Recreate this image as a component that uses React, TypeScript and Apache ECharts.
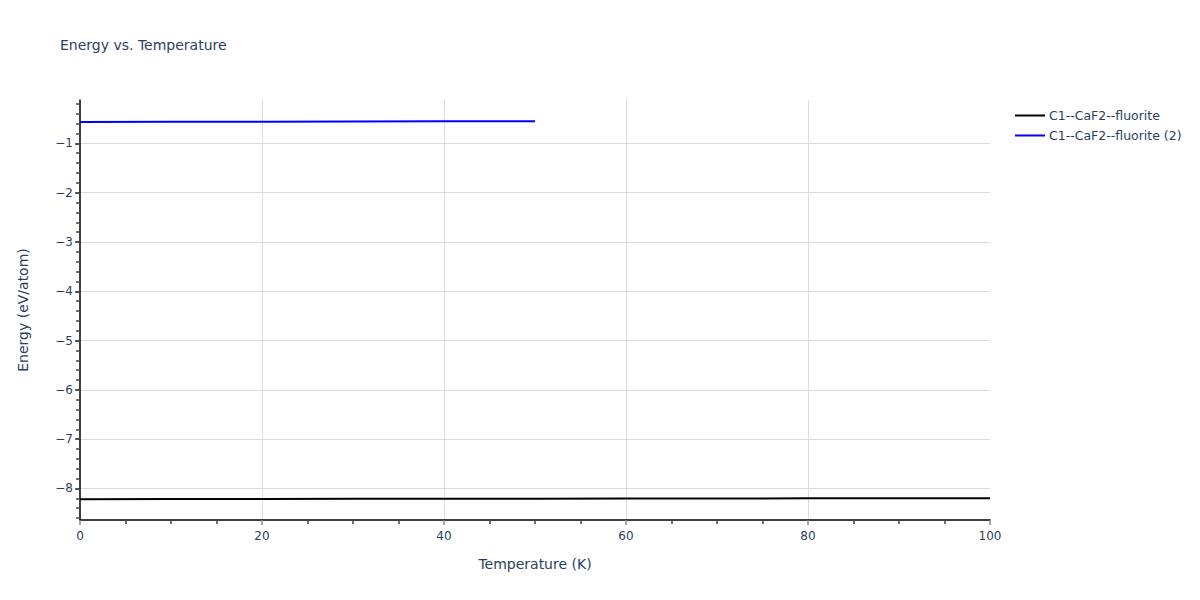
import React, { useEffect, useRef } from "react";
import * as echarts from "echarts";

const seriesNames = ["C1--CaF2--fluorite", "C1--CaF2--fluorite (2)"];
const tempA = [0, 10, 20, 30, 40, 50, 60, 70, 80, 90, 100];
const energyA = [-8.217, -8.215, -8.213, -8.211, -8.209, -8.207, -8.205, -8.203, -8.201, -8.199, -8.197];
const tempB = [0, 10, 20, 30, 40, 50];
const energyB = [-0.565, -0.562, -0.559, -0.556, -0.553, -0.55];
const xRange = [0, 100];
const yRange = [-8.64, -0.12];
const yMajorRange = [-8, -1];
const yMinorRange = [-8.6, -0.2];

const FONT = "DejaVu Sans, Verdana, sans-serif";
const TXT = "#2a3f5f";
const GRID_TOP = 100;
const GRID_BOTTOM = 80;
const GRID_LEFT = 80;
const GRID_RIGHT = 210;
const PLOT_H = 600 - GRID_TOP - GRID_BOTTOM;

function subGrid(range: number[]) {
  const ppu = PLOT_H / (yRange[1] - yRange[0]);
  return {
    left: GRID_LEFT,
    right: GRID_RIGHT,
    top: GRID_TOP + (yRange[1] - range[1]) * ppu,
    bottom: GRID_BOTTOM + (range[0] - yRange[0]) * ppu,
    containLabel: false,
  };
}

export default function App() {
  const ref = useRef<HTMLDivElement>(null);
  useEffect(() => {
    const chart = echarts.init(ref.current!, null, { renderer: "svg" });
    const pairs = (xs: number[], ys: number[]) => xs.map((x, i) => [x, ys[i]]);
    const hiddenX = (gridIndex: number) => ({
      type: "value",
      gridIndex,
      min: xRange[0],
      max: xRange[1],
      show: false,
    });
    chart.setOption({
      animation: false,
      backgroundColor: "#fff",
      textStyle: { fontFamily: FONT },
      title: {
        text: "Energy vs. Temperature",
        left: 55,
        top: 33,
        textStyle: { fontFamily: FONT, fontSize: 14, fontWeight: "normal", color: TXT },
      },
      legend: {
        orient: "vertical",
        left: 1010,
        top: 104,
        itemWidth: 30,
        itemHeight: 2,
        itemGap: 7,
        icon: "rect",
        textStyle: { fontFamily: FONT, fontSize: 12.5, color: TXT, padding: [0, 0, 0, -1] },
        data: seriesNames,
      },
      grid: [
        { left: GRID_LEFT, right: GRID_RIGHT, top: GRID_TOP, bottom: GRID_BOTTOM, containLabel: false },
        subGrid(yMajorRange),
        subGrid(yMinorRange),
      ],
      xAxis: [
        {
          type: "value",
          gridIndex: 0,
          min: xRange[0],
          max: xRange[1],
          interval: 20,
          name: "Temperature (K)",
          nameLocation: "middle",
          nameGap: 37,
          nameTextStyle: { fontFamily: FONT, fontSize: 14, color: TXT },
          axisLine: { show: true, onZero: false, lineStyle: { color: "#000", width: 1.5 } },
          axisTick: { show: true, length: 5, lineStyle: { color: "#888", width: 1.5 } },
          minorTick: { show: true, splitNumber: 4, length: 4, lineStyle: { color: "#444", width: 1.5 } },
          axisLabel: { fontFamily: FONT, fontSize: 12, color: TXT, margin: 10 },
          splitLine: { show: true, showMinLine: false, showMaxLine: false, lineStyle: { color: "#dcdcdc", width: 1 } },
        },
        hiddenX(1),
        hiddenX(2),
      ],
      yAxis: [
        {
          type: "value",
          gridIndex: 0,
          position: "left",
          min: yRange[0],
          max: yRange[1],
          name: "Energy (eV/atom)",
          nameLocation: "middle",
          nameGap: 50,
          nameTextStyle: { fontFamily: FONT, fontSize: 14, color: TXT },
          axisLine: { show: true, onZero: false, lineStyle: { color: "#000", width: 1.5 } },
          axisTick: { show: false },
          axisLabel: { show: false },
          splitLine: { show: false },
        },
        {
          type: "value",
          gridIndex: 1,
          position: "left",
          min: yMajorRange[0],
          max: yMajorRange[1],
          interval: 1,
          axisLine: { show: false, onZero: false },
          axisTick: { show: true, length: 5, lineStyle: { color: "#444", width: 1.5 } },
          axisLabel: {
            fontFamily: FONT,
            fontSize: 12,
            color: TXT,
            margin: 7,
            formatter: (v: number) => (v < 0 ? "\u2212" + Math.abs(Math.round(v)) : String(Math.round(v))),
          },
          splitLine: { show: true, lineStyle: { color: "#dcdcdc", width: 1 } },
        },
        {
          type: "value",
          gridIndex: 2,
          position: "left",
          min: yMinorRange[0],
          max: yMinorRange[1],
          interval: 0.2,
          axisLine: { show: false, onZero: false },
          axisTick: { show: true, length: 4, lineStyle: { color: "#444", width: 1.5 } },
          axisLabel: { show: false },
          splitLine: { show: false },
        },
      ],
      series: [
        {
          name: seriesNames[0],
          type: "line",
          xAxisIndex: 0,
          yAxisIndex: 0,
          data: pairs(tempA, energyA),
          showSymbol: false,
          symbol: "none",
          lineStyle: { color: "#000", width: 2 },
          itemStyle: { color: "#000" },
        },
        {
          name: seriesNames[1],
          type: "line",
          xAxisIndex: 0,
          yAxisIndex: 0,
          data: pairs(tempB, energyB),
          showSymbol: false,
          symbol: "none",
          lineStyle: { color: "#0000ff", width: 2 },
          itemStyle: { color: "#0000ff" },
        },
      ],
    });
    return () => chart.dispose();
  }, []);
  return <div ref={ref} style={{ width: 1200, height: 600, position: "absolute", left: 0, top: 0 }} />;
}
